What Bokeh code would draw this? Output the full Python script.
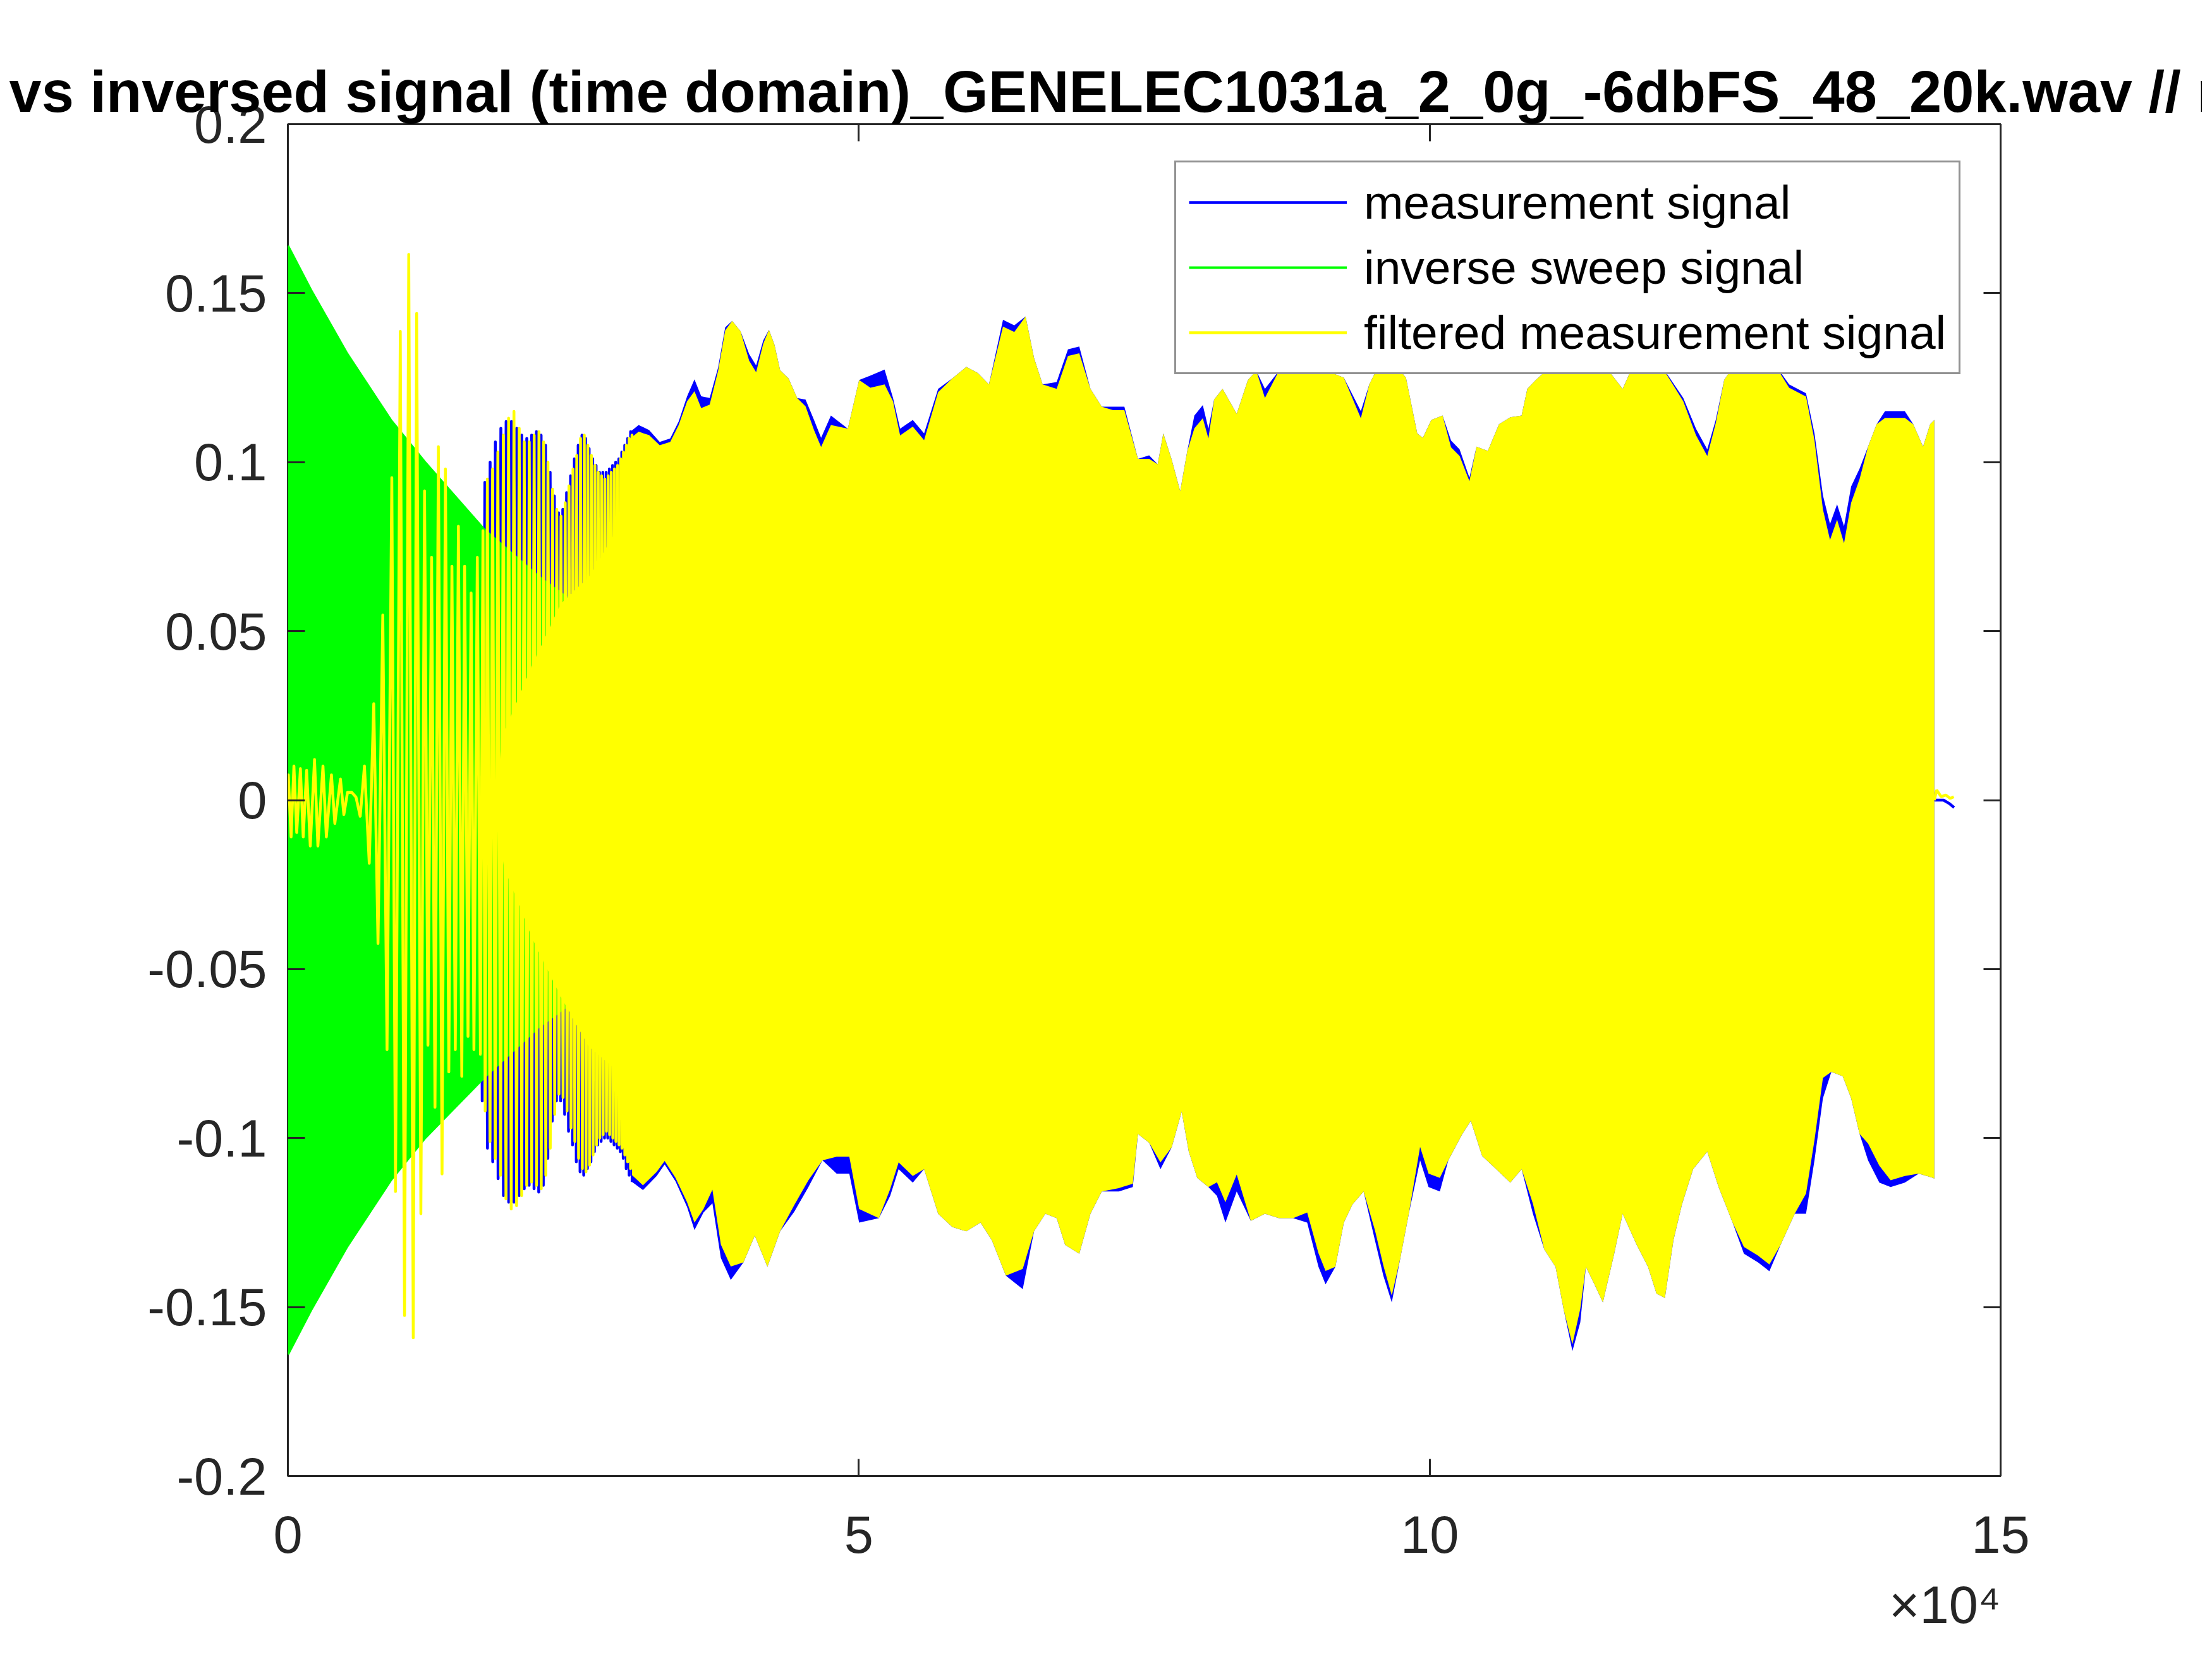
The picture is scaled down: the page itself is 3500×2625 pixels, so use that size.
from bokeh.plotting import figure
from bokeh.models import (FixedTicker, LinearAxis, Legend, LegendItem, Title,
                          Range1d, CustomJSTickFormatter)
from bokeh.embed import file_html
from bokeh.resources import INLINE

# ---------------- data ----------------
title_text = "vs inversed signal (time domain)_GENELEC1031a_2_0g_-6dbFS_48_20k.wav // r"
series_names = ["measurement signal", "inverse sweep signal", "filtered measurement signal"]

x_ticks = [0, 50000, 100000, 150000]
x_tick_labels = ["0", "5", "10", "15"]
y_ticks = [-0.2, -0.15, -0.1, -0.05, 0, 0.05, 0.1, 0.15, 0.2]
y_tick_labels = ["-0.2", "-0.15", "-0.1", "-0.05", "0", "0.05", "0.1", "0.15", "0.2"]
x_multiplier = "×10⁴"

# inverse sweep signal: envelope (sample, upper, lower)
sweep_env = [(0, 0.164, -0.164), (2000, 0.151, -0.151), (5200, 0.132, -0.132),
             (9000, 0.1125, -0.1125), (12000, 0.100, -0.100), (17200, 0.080, -0.082),
             (22000, 0.066, -0.067), (26000, 0.056, -0.057), (30000, 0.047, -0.048),
             (35000, 0.038, -0.039), (40000, 0.031, -0.032)]

# filtered measurement: individual swings visible at the start (sample, value)
filt_osc = [(0, 0.0), (35, 0.0075), (282, -0.0109), (529, 0.0101), (776, -0.0096),
            (1097, 0.0093), (1344, -0.0109), (1641, 0.0088), (1962, -0.0136), (2333, 0.0120),
            (2629, -0.0136), (3074, 0.0101), (3371, -0.0109), (3815, 0.0075), (4112, -0.0069),
            (4606, 0.0062), (4903, -0.0043), (5224, 0.0023), (5595, 0.0023), (5965, 0.0009),
            (6336, -0.0048), (6707, 0.0101), (7127, -0.0187), (7522, 0.0285), (7893, -0.0424),
            (8313, 0.0548), (8684, -0.0738), (9103, 0.0954), (9425, -0.1158), (9845, 0.1387),
            (10216, -0.1525), (10586, 0.1615), (10981, -0.1591), (11278, 0.1440), (11648, -0.1224),
            (11970, 0.0915), (12266, -0.0725), (12588, 0.0718), (12884, -0.0909), (13181, 0.1046),
            (13502, -0.1106), (13798, 0.0980), (14095, -0.0804), (14367, 0.0692), (14663, -0.0738),
            (14935, 0.0810), (15232, -0.0817), (15479, 0.0692), (15775, -0.0699), (16047, 0.0613),
            (16294, -0.0738), (16591, 0.0718), (16863, -0.0752), (17085, 0.0797), (17280, -0.092),
            (17470, 0.095), (17700, -0.101), (17930, 0.098), (18160, -0.106), (18390, 0.103),
            (18630, -0.111), (18870, 0.108), (19100, -0.118), (19330, 0.113), (19560, -0.121),
            (19800, 0.115), (20030, -0.120), (20260, 0.110), (20480, -0.117), (20700, 0.106),
            (20920, -0.114), (21140, 0.106), (21350, -0.113), (21570, 0.108), (21780, -0.114),
            (21990, 0.109), (22190, -0.115), (22400, 0.106), (22590, -0.111), (22780, 0.100),
            (22980, -0.103), (23180, 0.092), (23370, -0.093), (23550, 0.086), (23740, -0.087),
            (23920, 0.084), (24100, -0.088), (24290, 0.088), (24450, -0.092), (24620, 0.093),
            (24800, -0.097), (24970, 0.098), (25130, -0.101), (25300, 0.102), (25460, -0.106),
            (25630, 0.107), (25790, -0.109), (25960, 0.108), (26110, -0.110), (26270, 0.105),
            (26420, -0.108), (26580, 0.102), (26730, -0.105), (26890, 0.099), (27030, -0.102),
            (27180, 0.097), (27320, -0.100), (27470, 0.096), (27610, -0.099), (27760, 0.095),
            (27900, -0.098), (28050, 0.096), (28180, -0.099), (28320, 0.097), (28460, -0.100),
            (28600, 0.098), (28730, -0.101), (28870, 0.099), (29000, -0.102), (29140, 0.101),
            (29260, -0.103), (29390, 0.103), (29510, -0.105), (29640, 0.105), (29760, -0.107),
            (29890, 0.107), (30010, -0.109), (30140, 0.108), (30260, -0.111)]

# measurement: individual swings visible around 1.7e4..3e4 (sample, value)
meas_osc = [(16900, 0.0), (17020, -0.089), (17251, 0.094), (17480, -0.103), (17712, 0.100),
            (17940, -0.107), (18173, 0.106), (18410, -0.112), (18653, 0.110), (18880, -0.117),
            (19114, 0.112), (19340, -0.119), (19575, 0.112), (19800, -0.119), (20037, 0.110),
            (20260, -0.117), (20480, 0.108), (20700, -0.115), (20923, 0.107), (21130, -0.114),
            (21347, 0.108), (21560, -0.115), (21771, 0.109), (21970, -0.116), (22178, 0.108),
            (22370, -0.114), (22565, 0.105), (22770, -0.106), (22970, 0.097), (23150, -0.095),
            (23339, 0.090), (23520, -0.089), (23708, 0.085), (23890, -0.089), (24077, 0.086),
            (24240, -0.093), (24409, 0.091), (24580, -0.098), (24760, 0.096), (24930, -0.102),
            (25092, 0.101), (25260, -0.107), (25424, 0.105), (25590, -0.110), (25756, 0.108),
            (25910, -0.111), (26070, 0.107), (26230, -0.109), (26384, 0.104), (26540, -0.107),
            (26697, 0.101), (26845, -0.104), (26993, 0.099), (27140, -0.102), (27288, 0.097),
            (27435, -0.101), (27583, 0.097), (27730, -0.100), (27878, 0.097), (28015, -0.100),
            (28155, 0.098), (28290, -0.101), (28432, 0.099), (28570, -0.102), (28709, 0.100),
            (28850, -0.103), (28985, 0.101), (29115, -0.104), (29244, 0.103), (29370, -0.106),
            (29502, 0.105), (29630, -0.109), (29760, 0.107), (29890, -0.111), (30018, 0.109),
            (30150, -0.113)]

# filtered measurement: solid core in the 1.8e4..3e4 stretch (sample, upper, lower)
filt_core = [(18000, 0.0, 0.0), (18940, 0.02, -0.02), (21410, 0.04, -0.041),
             (23880, 0.058, -0.058), (26350, 0.066, -0.073), (28820, 0.08, -0.08),
             (30300, 0.09, -0.09)]

# dense part: upper envelope (sample, measurement, filtered)
upper_env = [(30000, 0.109, 0.107), (30720, 0.111, 0.109), (31640, 0.1095, 0.108),
             (32565, 0.106, 0.105), (33485, 0.107, 0.106), (34225, 0.112, 0.111),
             (34965, 0.1195, 0.118), (35610, 0.1245, 0.121), (36200, 0.1195, 0.116),
             (36940, 0.119, 0.117), (37680, 0.128, 0.127), (38300, 0.1399, 0.139),
             (38910, 0.1418, 0.1418), (39650, 0.1387, 0.1387), (40400, 0.132, 0.130),
             (41010, 0.1286, 0.1266), (41630, 0.136, 0.135), (42130, 0.1392, 0.1392),
             (42620, 0.1347, 0.1347), (43110, 0.1272, 0.1272), (43850, 0.1248, 0.1248),
             (44600, 0.119, 0.119), (45340, 0.1185, 0.1165), (46080, 0.1125, 0.1095),
             (46700, 0.1072, 0.1045), (47560, 0.1138, 0.111), (49040, 0.1099, 0.1099),
             (50030, 0.1243, 0.1243), (51020, 0.1256, 0.122), (52260, 0.1274, 0.123),
             (53000, 0.119, 0.118), (53620, 0.1099, 0.1079), (54730, 0.1125, 0.1105),
             (55720, 0.1085, 0.1065), (56950, 0.1217, 0.1207), (58190, 0.1248, 0.1248),
             (59420, 0.1282, 0.1282), (60410, 0.1264, 0.1264), (61400, 0.123, 0.123),
             (62630, 0.1421, 0.1401), (63620, 0.1405, 0.1385), (64610, 0.1431, 0.1431),
             (65350, 0.1308, 0.1308), (66100, 0.123, 0.123), (67330, 0.1237, 0.1217),
             (68320, 0.1334, 0.1314), (69310, 0.1342, 0.1322), (70290, 0.1217, 0.1217),
             (71280, 0.1164, 0.1164), (72270, 0.1164, 0.1154), (73260, 0.1164, 0.1154),
             (74450, 0.101, 0.101), (75430, 0.102, 0.101), (76180, 0.0994, 0.0994),
             (76670, 0.1085, 0.1085), (77410, 0.1007, 0.1007), (78150, 0.0914, 0.0914),
             (78770, 0.1033, 0.1033), (79390, 0.1138, 0.110), (80130, 0.1169, 0.113),
             (80620, 0.1099, 0.107), (81120, 0.1185, 0.1185), (81860, 0.1217, 0.1217),
             (83100, 0.1143, 0.1143), (84080, 0.1243, 0.1243), (84820, 0.127, 0.127),
             (85570, 0.1217, 0.119), (86800, 0.127, 0.127), (88040, 0.128, 0.128),
             (89270, 0.130, 0.130), (90260, 0.128, 0.128), (91740, 0.126, 0.126),
             (92480, 0.125, 0.125), (93970, 0.1151, 0.113), (94710, 0.123, 0.123),
             (95450, 0.128, 0.128), (96680, 0.130, 0.130), (97920, 0.125, 0.125),
             (98910, 0.1085, 0.1085), (99400, 0.1072, 0.1072), (100140, 0.1125, 0.1125),
             (101130, 0.1138, 0.1138), (101870, 0.1064, 0.1044), (102620, 0.1038, 0.1018),
             (103480, 0.0954, 0.0944), (104100, 0.1046, 0.1046), (105090, 0.1033, 0.1033),
             (106070, 0.1112, 0.1112), (107060, 0.1133, 0.1133), (108050, 0.1138, 0.1138),
             (108550, 0.1217, 0.1217), (109290, 0.1243, 0.1243), (110500, 0.128, 0.128),
             (112000, 0.130, 0.130), (113190, 0.128, 0.128), (115000, 0.130, 0.130),
             (116900, 0.1217, 0.1217), (118000, 0.130, 0.130), (120000, 0.130, 0.130),
             (122210, 0.119, 0.118), (123320, 0.1099, 0.108), (124310, 0.1038, 0.1018),
             (125050, 0.1125, 0.1115), (125790, 0.1243, 0.1243), (126530, 0.128, 0.128),
             (128000, 0.130, 0.130), (130000, 0.130, 0.130), (131480, 0.123, 0.122),
             (132960, 0.1204, 0.1194), (133700, 0.1085, 0.1065), (134440, 0.0902, 0.086),
             (135060, 0.0817, 0.077), (135680, 0.0875, 0.083), (136290, 0.0810, 0.076),
             (136910, 0.0928, 0.088), (137650, 0.0981, 0.095), (138390, 0.1046, 0.1046),
             (139140, 0.1112, 0.1112), (139880, 0.1151, 0.1131), (140620, 0.1151, 0.1131),
             (141610, 0.1151, 0.1131), (142350, 0.1112, 0.1112), (143210, 0.1046, 0.1046),
             (143830, 0.1112, 0.1112), (144200, 0.1125, 0.1125)]

# dense part: lower envelope (sample, measurement, filtered)
lower_env = [(30150, -0.113, -0.111), (31100, -0.1154, -0.114), (32300, -0.1112, -0.110),
             (33000, -0.1078, -0.1068), (33950, -0.1128, -0.1118), (34960, -0.1204, -0.119),
             (35610, -0.1272, -0.125), (36400, -0.122, -0.121), (37180, -0.1193, -0.1153),
             (37920, -0.1355, -0.1315), (38790, -0.1420, -0.138), (39900, -0.1368, -0.1368),
             (40890, -0.1289, -0.1289), (42000, -0.1381, -0.1381), (43110, -0.1276, -0.1276),
             (44350, -0.1218, -0.1198), (45590, -0.1145, -0.1125), (46820, -0.1066, -0.1066),
             (48060, -0.1105, -0.1055), (49170, -0.1105, -0.1055), (50030, -0.125, -0.121),
             (51760, -0.1237, -0.1237), (52750, -0.1171, -0.1151), (53490, -0.1092, -0.1072),
             (54730, -0.1132, -0.1112), (55720, -0.1092, -0.1092), (56950, -0.1224, -0.1224),
             (58190, -0.1263, -0.1263), (59420, -0.1276, -0.1276), (60660, -0.125, -0.125),
             (61650, -0.1302, -0.1302), (62880, -0.1407, -0.1407), (64360, -0.1447, -0.1387),
             (65350, -0.1276, -0.1276), (66340, -0.1224, -0.1224), (67330, -0.1237, -0.1237),
             (68070, -0.1316, -0.1316), (69310, -0.1342, -0.1342), (70290, -0.1224, -0.1224),
             (71280, -0.1158, -0.1158), (72770, -0.1158, -0.1148), (74000, -0.1145, -0.1135),
             (74450, -0.0988, -0.0988), (75430, -0.1014, -0.1014), (76420, -0.1092, -0.1072),
             (77410, -0.1027, -0.1027), (78280, -0.0922, -0.0922), (78900, -0.104, -0.104),
             (79640, -0.1118, -0.1118), (80620, -0.1145, -0.1145), (81370, -0.1171, -0.1131),
             (82110, -0.125, -0.119), (83100, -0.1158, -0.1108), (84330, -0.1245, -0.1245),
             (85570, -0.1224, -0.1224), (86800, -0.1237, -0.1237), (88040, -0.1237, -0.1237),
             (89270, -0.125, -0.122), (90260, -0.1381, -0.1341), (90880, -0.1433, -0.1393),
             (91740, -0.1381, -0.1381), (92480, -0.125, -0.125), (93230, -0.1197, -0.1197),
             (94210, -0.1158, -0.1158), (95200, -0.1302, -0.1272), (95940, -0.1407, -0.1377),
             (96680, -0.1486, -0.1466), (97430, -0.1355, -0.1355), (98170, -0.1224, -0.1224),
             (99160, -0.1066, -0.1026), (99900, -0.1145, -0.1105), (100890, -0.1158, -0.1118),
             (101630, -0.1066, -0.1066), (102860, -0.0988, -0.0988), (103600, -0.0949, -0.0949),
             (104590, -0.1053, -0.1053), (105830, -0.1092, -0.1092), (107060, -0.1132, -0.1132),
             (108050, -0.1092, -0.1092), (109040, -0.1224, -0.1194), (110030, -0.1329, -0.1329),
             (111020, -0.1381, -0.1381), (111760, -0.1512, -0.1512), (112500, -0.1630, -0.1610),
             (113190, -0.1545, -0.1505), (113680, -0.1381, -0.1381), (114430, -0.1433, -0.1433),
             (115170, -0.1486, -0.1486), (116160, -0.1342, -0.1342), (116900, -0.1224, -0.1224),
             (118130, -0.1316, -0.1316), (119120, -0.1381, -0.1381), (119860, -0.146, -0.146),
             (120600, -0.1473, -0.1473), (121350, -0.1302, -0.1302), (122090, -0.1197, -0.1197),
             (123070, -0.1092, -0.1092), (124310, -0.104, -0.104), (125300, -0.1145, -0.1145),
             (126530, -0.125, -0.125), (127520, -0.1342, -0.1322), (128760, -0.1368, -0.1348),
             (129750, -0.1394, -0.1374), (130730, -0.1316, -0.1316), (131970, -0.1224, -0.1224),
             (132960, -0.1224, -0.1164), (133700, -0.1066, -0.1006), (134440, -0.0882, -0.0822),
             (135180, -0.0804, -0.0804), (136170, -0.0817, -0.0817), (136910, -0.0882, -0.0882),
             (137650, -0.0988, -0.0988), (138390, -0.1066, -0.1016), (139380, -0.1132, -0.1082),
             (140370, -0.1145, -0.1125), (141610, -0.1132, -0.1112), (142840, -0.1105, -0.1105),
             (144080, -0.1118, -0.1118), (144200, -0.112, -0.112)]

# tails after the sweep ends (sample, value)
filt_tail = [(144200, 0.0), (144400, 0.003), (144800, 0.001), (145200, 0.0015),
             (145600, 0.0005), (145900, 0.001)]
meas_tail = [(144200, 0.0), (145000, 0.0), (145500, -0.001), (145930, -0.0022)]

# ---------------- styling ----------------
BLUE, GREEN, YELLOW = "#0000FF", "#00FF00", "#FFFF00"
AX = "#262626"
FONT = "Liberation Sans"


def col(rows, i):
    return [r[i] for r in rows]


def ring(rows, ui, rows2, li):
    xs = col(rows, 0) + col(rows2, 0)[::-1]
    ys = col(rows, ui) + col(rows2, li)[::-1]
    return xs, ys


p = figure(frame_width=2710, frame_height=2139,
           x_range=Range1d(0, 150000), y_range=Range1d(-0.2, 0.2),
           output_backend="svg", toolbar_location=None,
           min_border_left=455, min_border_right=319,
           min_border_top=196, min_border_bottom=274,
           background_fill_color="white", border_fill_color="white",
           outline_line_color=AX, outline_line_width=3)
p.xgrid.visible = False
p.ygrid.visible = False

# measurement (blue)
mx, my = ring(upper_env, 1, lower_env, 1)
p.patch(mx, my, fill_color=BLUE, line_color=None)
r_meas = p.line(col(meas_osc, 0), col(meas_osc, 1), line_color=BLUE, line_width=4.5,
                line_join="round")
p.line(col(meas_tail, 0), col(meas_tail, 1), line_color=BLUE, line_width=4.5)

# inverse sweep (green)
gx, gy = ring(sweep_env, 1, sweep_env, 2)
p.patch(gx, gy, fill_color=GREEN, line_color=None)
r_sweep = p.line(gx, gy, line_color=GREEN, line_width=4)

# filtered measurement (yellow)
cx, cy = ring(filt_core, 1, filt_core, 2)
p.patch(cx, cy, fill_color=YELLOW, line_color=None)
fx, fy = ring(upper_env, 2, lower_env, 2)
p.patch(fx, fy, fill_color=YELLOW, line_color=None)
r_filt = p.line(col(filt_osc, 0), col(filt_osc, 1), line_color=YELLOW, line_width=4.5,
                line_join="round")
p.line(col(filt_tail, 0), col(filt_tail, 1), line_color=YELLOW, line_width=4.5)


# axes
def style_axis(ax, labels_on=True):
    ax.axis_line_color = None
    ax.major_tick_line_color = AX
    ax.major_tick_line_width = 3
    ax.major_tick_in = 27
    ax.major_tick_out = 0
    ax.minor_tick_line_color = None
    ax.major_label_text_font = FONT
    ax.major_label_text_color = AX
    if labels_on:
        ax.major_label_text_font_size = "83px"
    else:
        ax.major_label_text_font_size = "1px"
        ax.formatter = CustomJSTickFormatter(code="return ''")
        ax.major_label_standoff = 0


xa = p.xaxis[0]
xa.ticker = FixedTicker(ticks=x_ticks)
xa.major_label_overrides = dict(zip(x_ticks, x_tick_labels))
style_axis(xa)
xa.major_label_standoff = 63

ya = p.yaxis[0]
ya.ticker = FixedTicker(ticks=y_ticks)
ya.major_label_overrides = dict(zip(y_ticks, y_tick_labels))
style_axis(ya)
ya.major_label_standoff = 33

top = LinearAxis(ticker=FixedTicker(ticks=x_ticks))
style_axis(top, labels_on=False)
p.add_layout(top, "above")
right = LinearAxis(ticker=FixedTicker(ticks=y_ticks))
style_axis(right, labels_on=False)
p.add_layout(right, "right")

# title (wider than the figure, clipped on both sides like the original)
p.title.text = title_text
p.title.align = "left"
p.title.offset = -441
p.title.text_font = FONT
p.title.text_font_style = "bold"
p.title.text_font_size = "92px"
p.title.text_color = "black"
p.title.standoff = 1

# x10^4 multiplier below the right end of the x axis
mult = Title(text=x_multiplier, align="right", offset=0, standoff=62,
             text_font=FONT, text_font_size="83px", text_font_style="normal",
             text_color=AX)
p.add_layout(mult, "below")

legend = Legend(items=[LegendItem(label=series_names[0], renderers=[r_meas]),
                       LegendItem(label=series_names[1], renderers=[r_sweep]),
                       LegendItem(label=series_names[2], renderers=[r_filt])],
                location=(1403, 1743))
legend.label_text_font = FONT
legend.label_text_font_size = "75px"
legend.label_text_color = "black"
legend.glyph_width = 250
legend.glyph_height = 80
legend.label_standoff = 27
legend.padding = 20
legend.spacing = 17
legend.margin = 0
legend.border_line_color = AX
legend.border_line_width = 3
legend.background_fill_color = "white"
legend.background_fill_alpha = 1
p.add_layout(legend)

open("out.html", "w").write(file_html(p, INLINE))
